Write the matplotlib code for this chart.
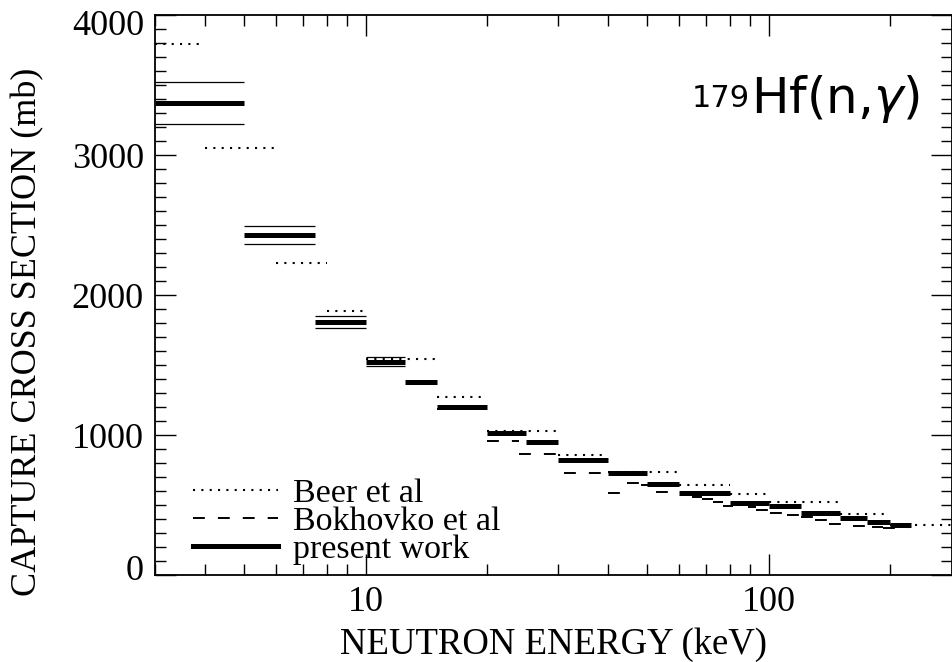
import matplotlib.pyplot as plt
import matplotlib.transforms as mtransforms
from matplotlib.lines import Line2D
from matplotlib.ticker import FixedLocator, NullFormatter, MultipleLocator
import numpy as np

# present work: bin edges (keV), cross sections (mb), uncertainties (mb)
present_edges = [3, 5, 7.5, 10, 12.5, 15, 20, 25, 30, 40, 50, 60, 80, 100, 120, 150, 175, 200, 225]
present_sigma = [3370, 2430, 1805, 1525, 1379, 1202, 1017, 950, 821, 731, 648, 588, 516, 495, 441, 405, 376, 357]
present_err = [150, 65, 42, 30, 0, 0, 0, 0, 0, 0, 0, 0, 0, 0, 0, 0, 0, 0]

# Beer et al
beer_edges = [3, 4, 6, 8, 10, 15, 20, 30, 40, 60, 80, 100, 150, 200, 300]
beer_sigma = [3793, 3050, 2231, 1888, 1543, 1271, 1029, 857, 738, 640, 579, 519, 436, 355]

# Bokhovko et al
bokh_lo = [15, 20, 24, 31, 40, 44.4, 48.3, 52.4, 64.4, 68.2, 72.6, 76.9, 81.4, 88.6, 92.8,
           100.5, 110.9, 120, 130, 141, 162, 180, 192]
bokh_hi = [20, 24, 30.6, 40, 44.4, 48.3, 52.4, 64.4, 68.2, 72.6, 76.9, 81.4, 88.6, 92.8, 100.5,
           110.9, 120, 130, 141, 162, 180, 192, 222]
bokh_sigma = [1185, 957, 864, 728, 588, 657, 645, 595, 556, 543, 518, 495, 505, 486, 464,
              441, 426, 417, 393, 364, 352, 345, 334]

plt.rcParams['font.family'] = ['Liberation Serif', 'DejaVu Serif']

fig = plt.figure(figsize=(9.53, 6.62), dpi=100)
ax = fig.add_axes([155 / 953, 1 - 575 / 662, (952 - 155) / 953, 560 / 662])

dotted = (0, (1, 3))
dashed = (0, (6.1, 6.7))
thick = 3.6

ax.hlines(beer_sigma, beer_edges[:-1], beer_edges[1:], colors='black',
          linestyles=[dotted], linewidth=1.5)
ax.hlines(bokh_sigma, bokh_lo, bokh_hi, colors='black',
          linestyles=[dashed], linewidth=1.4)

lo = np.array(present_edges[:-1])
hi = np.array(present_edges[1:])
sig = np.array(present_sigma)
err = np.array(present_err)
m = err > 0
ax.hlines(sig[m] + err[m], lo[m], hi[m], colors='black', linewidth=0.9)
ax.hlines(sig[m] - err[m], lo[m], hi[m], colors='black', linewidth=0.9)
ax.hlines(sig, lo, hi, colors='black', linewidth=thick)

ax.set_xscale('log')
ax.set_xlim(3, 285)
ax.set_ylim(0, 4000)

ax.xaxis.set_major_locator(FixedLocator([10, 100]))
ax.xaxis.set_minor_locator(FixedLocator([3, 4, 5, 6, 7, 8, 9, 20, 30, 40, 50, 60, 70, 80, 90, 200]))
ax.xaxis.set_minor_formatter(NullFormatter())
ax.set_xticklabels(['10', '100'])
ax.yaxis.set_major_locator(FixedLocator([0, 1000, 2000, 3000, 4000]))
ax.yaxis.set_minor_locator(MultipleLocator(100))
ax.set_yticklabels(['0', '1000', '2000', '3000', '4000'])

ax.tick_params(which='both', direction='in', top=True, right=True, width=1.0)
ax.tick_params(which='major', length=15, labelsize=26, pad=8)
ax.tick_params(which='minor', length=8)
for s in ax.spines.values():
    s.set_linewidth(1.3)

# end labels sit a little inside the axis range
ylabels = ax.get_yticklabels()
ylabels[0].set_transform(ylabels[0].get_transform() +
                         mtransforms.ScaledTranslation(0, 7 / 100, fig.dpi_scale_trans))
ylabels[-1].set_transform(ylabels[-1].get_transform() +
                          mtransforms.ScaledTranslation(0, -7 / 100, fig.dpi_scale_trans))

ax.set_xlabel('NEUTRON ENERGY (keV)', fontsize=26.5, labelpad=6)
ax.set_ylabel('CAPTURE CROSS SECTION (mb)', fontsize=26)
ax.yaxis.set_label_coords(-0.139, 0.434)

# reaction label, mass number as a separate smaller text
reac = ax.text(0.96, 0.825, r'Hf(n,$\gamma$)', transform=ax.transAxes,
               ha='right', va='baseline', fontsize=36, family='DejaVu Sans')
ax.annotate('179', xy=(0, 1), xycoords=reac, xytext=(-1, -8), textcoords='offset points',
            ha='right', va='top', fontsize=22, family='DejaVu Sans')

handles = [
    Line2D([], [], color='black', linestyle=dotted, linewidth=1.5),
    Line2D([], [], color='black', linestyle=dashed, linewidth=1.4),
    Line2D([], [], color='black', linewidth=thick),
]
ax.legend(handles, ['Beer et al', 'Bokhovko et al', 'present work'],
          loc='lower left', bbox_to_anchor=(0.024, -0.016), frameon=False,
          fontsize=24.5, handlelength=2.5, handletextpad=0.45, labelspacing=-0.08,
          borderaxespad=0.15)

fig.savefig('out.png', dpi=100)
